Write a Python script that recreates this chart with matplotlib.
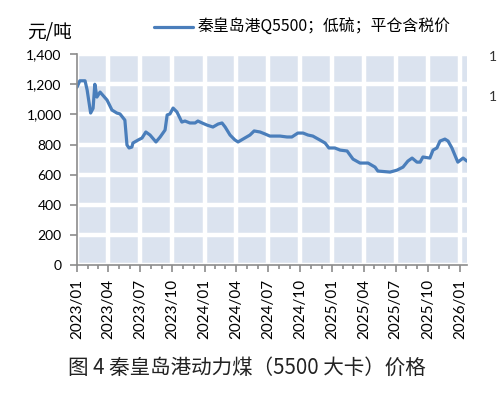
import numpy as np
import pandas as pd
import matplotlib
matplotlib.use("Agg")
import matplotlib.pyplot as plt
import matplotlib.dates as mdates
from matplotlib.ticker import FuncFormatter

plt.rcParams['font.family'] = ['Noto Sans CJK SC', 'DejaVu Sans']

# 秦皇岛港Q5500 平仓含税价 (元/吨)
dates = ["2023-01-01", "2023-01-09", "2023-01-24", "2023-01-30", "2023-02-09", "2023-02-16",
         "2023-02-21", "2023-02-27", "2023-03-08", "2023-03-28", "2023-04-11", "2023-04-25",
         "2023-05-04", "2023-05-18", "2023-05-24", "2023-05-30", "2023-06-07", "2023-06-10",
         "2023-06-25", "2023-07-06", "2023-07-17", "2023-07-29", "2023-08-15", "2023-08-27",
         "2023-09-10", "2023-09-16", "2023-09-24", "2023-10-03", "2023-10-14", "2023-10-28",
         "2023-11-06", "2023-11-20", "2023-12-05", "2023-12-13", "2023-12-25", "2024-01-08",
         "2024-01-25", "2024-02-09", "2024-02-20", "2024-02-29", "2024-03-14", "2024-03-28",
         "2024-04-06", "2024-04-20", "2024-05-10", "2024-05-22", "2024-06-08", "2024-06-22",
         "2024-07-06", "2024-08-04", "2024-08-24", "2024-09-07", "2024-09-24", "2024-10-09",
         "2024-10-23", "2024-11-06", "2024-11-26", "2024-12-11", "2024-12-22", "2025-01-08",
         "2025-01-23", "2025-02-12", "2025-03-01", "2025-03-21", "2025-04-13", "2025-05-03",
         "2025-05-11", "2025-06-15", "2025-07-05", "2025-07-22", "2025-08-05", "2025-08-17",
         "2025-08-31", "2025-09-09", "2025-09-17", "2025-10-07", "2025-10-16", "2025-10-27",
         "2025-11-05", "2025-11-19", "2025-11-28", "2025-12-09", "2025-12-21", "2025-12-26",
         "2026-01-10", "2026-01-21"]
prices = [1180, 1223, 1223, 1162, 1009, 1040,
          1200, 1115, 1148, 1095, 1029, 1009,
          1003, 962, 797, 777, 783, 810,
          830, 843, 883, 863, 817, 850,
          896, 996, 1003, 1042, 1016, 949,
          956, 943, 943, 956, 943, 929,
          916, 936, 943, 916, 863, 830,
          817, 836, 863, 890, 883, 870,
          856, 856, 850, 850, 876, 876,
          863, 856, 830, 810, 777, 777,
          763, 757, 703, 677, 677, 650,
          624, 617, 630, 650, 690, 710,
          683, 683, 717, 710, 763, 777,
          823, 836, 823, 777, 710, 683,
          710, 690]
yticks = [0, 200, 400, 600, 800, 1000, 1200, 1400]

x = pd.to_datetime(dates)

fig = plt.figure(figsize=(5.01, 3.95), dpi=100)
ax = fig.add_axes([0.1537, 0.329, 0.7783, 0.534])
ax.set_facecolor('#dbe3ef')

ax.plot(x, prices, color='#4a7ebb', linewidth=2.3, solid_capstyle='round',
        label='秦皇岛港Q5500；低硫；平仓含税价', zorder=3)

ax.set_ylim(0, 1400)
ax.set_yticks(yticks)
ax.yaxis.set_major_formatter(FuncFormatter(lambda v, p: f"{int(v):,}"))
ax.set_xlim(pd.Timestamp("2023-01-01"), pd.Timestamp("2026-01-21"))
ax.xaxis.set_major_locator(mdates.MonthLocator(bymonth=[1, 4, 7, 10]))
ax.xaxis.set_minor_locator(mdates.MonthLocator())
ax.xaxis.set_major_formatter(mdates.DateFormatter("%Y/%m"))

ax.grid(True, which='major', color='white', linewidth=3.2, zorder=1)
ax.set_axisbelow(True)
for s in ['top', 'right']:
    ax.spines[s].set_visible(False)
for s in ['left', 'bottom']:
    ax.spines[s].set_color('#8c8c8c')
    ax.spines[s].set_linewidth(1.2)
    ax.spines[s].set_zorder(4)

ax.tick_params(axis='both', which='both', direction='out', color='#8c8c8c', width=1.2)
ax.tick_params(axis='x', which='major', length=5, pad=5)
ax.tick_params(axis='x', which='minor', length=3)
ax.tick_params(axis='y', length=5, pad=6)
for lab in ax.get_yticklabels():
    lab.set_fontfamily('Lato')
    lab.set_fontsize(10)
for lab in ax.get_xticklabels():
    lab.set_fontfamily('Lato')
    lab.set_fontsize(11)
    lab.set_rotation(90)

leg = ax.legend(loc='lower left', bbox_to_anchor=(0.18, 1.055), frameon=False,
                fontsize=11.4, handlelength=2.5, handletextpad=0.3, borderaxespad=0)

fig.text(0.054, 0.918, '元/吨', fontsize=13.5, va='center', ha='left')
fig.text(0.136, 0.068, '图 4 秦皇岛港动力煤（5500 大卡）价格', fontsize=14.8,
         va='center', ha='left', color='#222222')
fig.text(0.975, 0.855, '1', fontsize=10, color='#333333', va='center', family='Lato')
fig.text(0.975, 0.754, '1', fontsize=10, color='#333333', va='center', family='Lato')

fig.savefig("out.png", dpi=100)
